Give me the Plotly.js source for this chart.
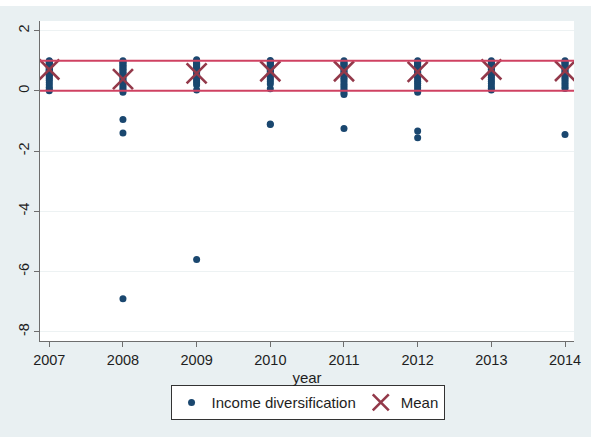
<!DOCTYPE html>
<html>
<head>
<meta charset="utf-8">
<script src="https://cdn.plot.ly/plotly-3.0.1.min.js"></script>
<style>
  html, body { margin: 0; padding: 0; background: #ffffff; }
  #chart { position: absolute; left: 0; top: 6px; width: 591px; height: 431px; }
</style>
</head>
<body>
<div id="chart"></div>
<script>
// Income diversification by bank-year, with the yearly mean
const years = [2007, 2008, 2009, 2010, 2011, 2012, 2013, 2014];

const div2007 = [0.00, 0.05, 0.12, 0.20, 0.28, 0.35, 0.41, 0.47, 0.52, 0.55, 0.58, 0.62, 0.66, 0.68, 0.70, 0.73, 0.76, 0.80, 0.83, 0.86, 0.90, 0.93, 0.96, 0.98, 1.00];
const div2008 = [-6.91, -1.40, -0.95, -0.05, 0.02, 0.08, 0.15, 0.22, 0.29, 0.35, 0.40, 0.46, 0.52, 0.57, 0.62, 0.67, 0.72, 0.76, 0.80, 0.85, 0.89, 0.93, 0.97, 1.00];
const div2009 = [-5.60, 0.03, 0.19, 0.27, 0.33, 0.39, 0.45, 0.50, 0.55, 0.60, 0.64, 0.68, 0.72, 0.76, 0.80, 0.84, 0.88, 0.92, 0.96, 1.00, 1.03];
const div2010 = [-1.12, -1.10, 0.07, 0.23, 0.30, 0.37, 0.43, 0.49, 0.54, 0.59, 0.63, 0.67, 0.71, 0.75, 0.79, 0.83, 0.87, 0.91, 0.95, 0.98, 1.01];
const div2011 = [-1.25, -0.12, -0.06, 0.01, 0.08, 0.15, 0.22, 0.29, 0.36, 0.42, 0.48, 0.54, 0.59, 0.64, 0.69, 0.74, 0.79, 0.84, 0.88, 0.92, 0.96, 1.00];
const div2012 = [-1.56, -1.33, -0.05, 0.03, 0.10, 0.18, 0.25, 0.32, 0.39, 0.45, 0.51, 0.57, 0.62, 0.67, 0.72, 0.77, 0.82, 0.86, 0.90, 0.94, 0.97, 1.00];
const div2013 = [0.03, 0.09, 0.16, 0.24, 0.31, 0.38, 0.45, 0.51, 0.57, 0.62, 0.67, 0.72, 0.77, 0.81, 0.85, 0.89, 0.93, 0.97, 1.00];
const div2014 = [-1.45, 0.08, 0.14, 0.21, 0.28, 0.35, 0.42, 0.48, 0.54, 0.59, 0.64, 0.69, 0.74, 0.78, 0.82, 0.86, 0.90, 0.94, 0.97, 1.00];

const meanValues = [0.71, 0.39, 0.58, 0.65, 0.65, 0.63, 0.71, 0.66];
const refLines = [0, 1];

const yTicks = [-8, -6, -4, -2, 0, 2];

const byYear = [div2007, div2008, div2009, div2010, div2011, div2012, div2013, div2014];
const ptsX = [], ptsY = [];
byYear.forEach((vals, i) => {
  vals.forEach(v => { ptsX.push(years[i]); ptsY.push(v); });
});

const FONT = 'Liberation Sans, Arial, sans-serif';
const NAVY = '#1a476f';
const LINE_RED = '#cf4262';
const MEAN_RED = '#93394a';

const traces = [
  {
    type: 'scatter', mode: 'markers', name: 'Income diversification',
    x: ptsX, y: ptsY,
    marker: { color: NAVY, size: 7, symbol: 'circle' },
    hoverinfo: 'x+y'
  },
  {
    type: 'scatter', mode: 'markers', name: 'Mean',
    x: years, y: meanValues,
    marker: { symbol: 'x-thin-open', size: 20, color: MEAN_RED,
              line: { color: MEAN_RED, width: 2.6 } },
    hoverinfo: 'x+y'
  }
];

const shapes = refLines.map(v => ({
  type: 'line', xref: 'paper', yref: 'y', x0: 0, x1: 1, y0: v, y1: v,
  line: { color: LINE_RED, width: 2 }, layer: 'above'
}));

const layout = {
  width: 591, height: 431,
  margin: { l: 40, r: 17, t: 15, b: 96 },
  paper_bgcolor: '#e9f0f2',
  plot_bgcolor: '#ffffff',
  font: { family: FONT, color: '#1e1e1e', size: 15 },
  showlegend: true,
  xaxis: {
    range: [2006.874, 2014.122],
    tickvals: years,
    ticktext: years.map(String),
    ticks: 'outside', ticklen: 5, tickcolor: '#6e6e6e', tickwidth: 1,
    showline: true, linecolor: '#6e6e6e', linewidth: 1.3,
    showgrid: false, zeroline: false,
    tickfont: { size: 14.5, family: FONT, color: '#1e1e1e' },
    title: { text: 'year', font: { size: 15, family: FONT, color: '#1e1e1e' }, standoff: 5 }
  },
  yaxis: {
    range: [-8.31, 2.32],
    tickvals: yTicks,
    ticktext: yTicks.map(String),
    tickangle: -90,
    ticklabelstandoff: -1,
    ticks: 'outside', ticklen: 5, tickcolor: '#6e6e6e', tickwidth: 1,
    showline: true, linecolor: '#6e6e6e', linewidth: 1.3,
    showgrid: true, gridcolor: '#edf2f3', gridwidth: 1,
    zeroline: false,
    tickfont: { size: 14.5, family: FONT, color: '#1e1e1e' }
  },
  legend: {
    orientation: 'h',
    x: 0.501, xanchor: 'center',
    y: -0.138, yanchor: 'top',
    bgcolor: '#ffffff', bordercolor: '#333333', borderwidth: 1,
    font: { size: 15, family: FONT, color: '#1e1e1e' }
  },
  shapes: shapes
};

Plotly.newPlot('chart', traces, layout, { displayModeBar: false, staticPlot: true });
</script>
</body>
</html>
